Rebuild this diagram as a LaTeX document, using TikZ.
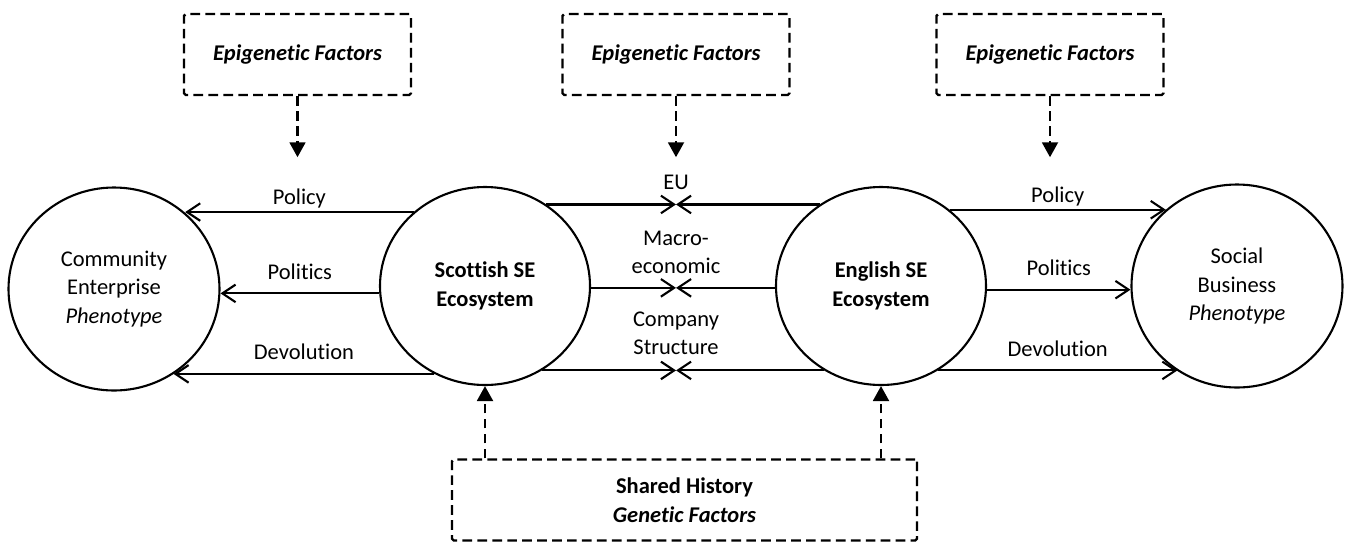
\documentclass[tikz,border=0pt]{standalone}
\usepackage{fontspec}
\setmainfont{Carlito}[Ligatures=NoCommon]
\usetikzlibrary{positioning,shapes.geometric,arrows.meta}

\newcommand{\diafont}{\fontsize{12.8pt}{16.2pt}\selectfont}

\tikzset{
  eco/.style={ellipse,draw,line width=1.2pt,minimum width=4.2cm,minimum height=3.96cm,align=center,font=\diafont\bfseries},
  pheno/.style={ellipse,draw,line width=1.2pt,minimum width=4.22cm,minimum height=4.06cm,align=center,font=\diafont},
  factor/.style={draw,line width=1.4pt,dash pattern=on 5.5pt off 3pt,rounded corners=1pt,minimum width=4.54cm,minimum height=1.62cm,align=center,font=\diafont\bfseries\itshape},
  flow/.style={-{Straight Barb[length=7.5pt,width=10pt]},line width=1.2pt},
  push/.style={-{Triangle[length=8.5pt,width=9pt]},line width=1.4pt,dash pattern=on 5.5pt off 3pt},
  lbl/.style={above,inner sep=0pt,align=center,font=\diafont,yshift=#1},
  lbl/.default=0.26cm
}

\begin{document}
\begin{tikzpicture}[node distance=7.42cm]

\useasboundingbox (-2.28,-5.12) rectangle (24.64,5.72);

\node (scot) [eco] at (7.42,0) {Scottish SE\\Ecosystem};
\node (comm) [pheno,left of=scot,yshift=-0.06cm] {Community\\Enterprise\\\textit{Phenotype}};
\node (eng) [eco,right of=scot,xshift=0.5cm] {English SE\\Ecosystem};
\node (soc) [pheno,right of=eng,xshift=-0.3cm] {Social\\Business\\\textit{Phenotype}};

\node (epileft) [factor] at (3.67,4.63) {Epigenetic Factors};
\node (epimid) [factor] at (11.24,4.63) {Epigenetic Factors};
\node (epiright) [factor] at (18.72,4.63) {Epigenetic Factors};
\node (genes) [factor,minimum width=9.3cm,font=\diafont\bfseries] at (11.41,-4.28) {Shared History\\\textit{Genetic Factors}};

\coordinate [below=1.22cm of epileft] (tipleft);
\coordinate [below=1.22cm of epimid] (tipmid);
\coordinate [below=1.22cm of epiright] (tipright);

\draw[push] (epileft) -- (tipleft);
\draw[push] (epimid) -- (tipmid);
\draw[push] (epiright) -- (tipright);

\draw[push] (genes.north -| scot) -- (scot.south);
\draw[push] (genes.north -| eng) -- (eng.south);

\draw[flow] (scot.134) -- (comm.47 |- scot.134) node[lbl=0.06cm,midway] {Policy};
\draw[flow] (scot.184) -- (comm.358 |- scot.184) node[lbl,midway] {Politics};
\draw[flow] (scot.240) -- (comm.305 |- scot.240) node[lbl,midway] {Devolution};

\draw[flow] (scot.53) -- (epimid |- scot.53) node[lbl=0.28cm] {EU};
\draw[flow] (eng.127) -- (epimid |- eng.127);
\draw[flow] (scot.359) -- (epimid |- scot.359) node[lbl] {Macro-\\economic};
\draw[flow] (eng.181) -- (epimid |- eng.181);
\draw[flow] (scot.304) -- (epimid |- scot.304) node[lbl=0.29cm] {Company\\Structure};
\draw[flow] (eng.236) -- (epimid |- eng.236);

\draw[flow] (eng.48) -- (soc.133 |- eng.48) node[lbl=0.06cm,midway] {Policy};
\draw[flow] (eng.358) -- (soc.182 |- eng.358) node[lbl,midway] {Politics};
\draw[flow] (eng.304) -- (soc.235 |- eng.304) node[lbl,midway] {Devolution};

\end{tikzpicture}
\end{document}
